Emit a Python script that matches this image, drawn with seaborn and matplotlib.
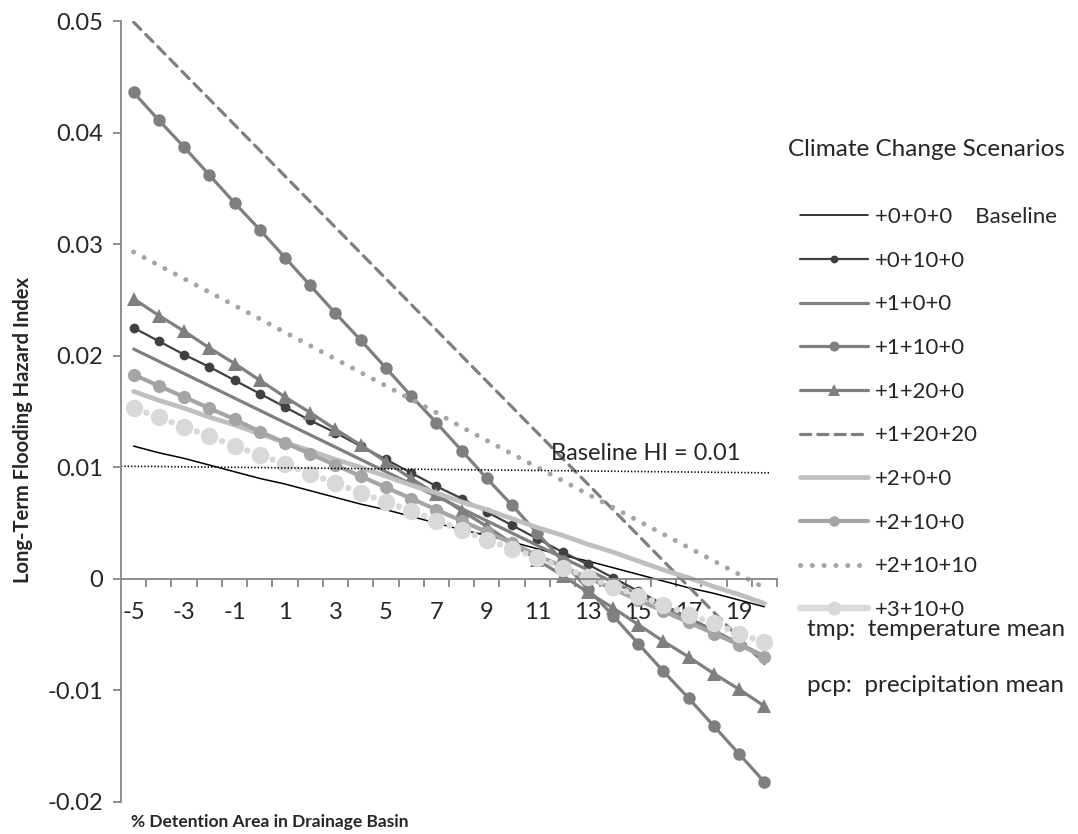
import numpy as np
import pandas as pd
import seaborn as sns
import matplotlib.pyplot as plt
from matplotlib.lines import Line2D

# % detention area (categories on the x axis)
detention = list(range(-5, 21))
tick_values = list(range(-5, 20, 2))
tick_labels = [str(v) for v in tick_values]

# long-term flooding hazard index
hi_000 = [0.0119, 0.0113, 0.0108, 0.0102, 0.0096, 0.0090, 0.0085, 0.0079, 0.0073, 0.0067,
          0.0062, 0.0056, 0.0050, 0.0044, 0.0039, 0.0033, 0.0027, 0.0021, 0.0016, 0.0010,
          0.0004, -0.0002, -0.0008, -0.0013, -0.0019, -0.0025]
hi_0100 = [0.0225, 0.0213, 0.0201, 0.0190, 0.0178, 0.0166, 0.0154, 0.0142, 0.0131, 0.0119,
           0.0107, 0.0095, 0.0083, 0.0072, 0.0060, 0.0048, 0.0036, 0.0024, 0.0013, 0.0001,
           -0.0011, -0.0023, -0.0035, -0.0046, -0.0058, -0.0070]
hi_100 = [0.0206, 0.0195, 0.0184, 0.0173, 0.0162, 0.0151, 0.0140, 0.0129, 0.0118, 0.0107,
          0.0096, 0.0085, 0.0074, 0.0063, 0.0052, 0.0041, 0.0030, 0.0019, 0.0008, -0.0003,
          -0.0014, -0.0025, -0.0036, -0.0047, -0.0058, -0.0069]
hi_1100 = [0.0436, 0.0411, 0.0387, 0.0362, 0.0337, 0.0313, 0.0288, 0.0263, 0.0238, 0.0214,
           0.0189, 0.0164, 0.0140, 0.0115, 0.0090, 0.0066, 0.0041, 0.0016, -0.0009, -0.0033,
           -0.0058, -0.0083, -0.0107, -0.0132, -0.0157, -0.0182]
hi_1200 = [0.0251, 0.0236, 0.0222, 0.0207, 0.0193, 0.0178, 0.0163, 0.0149, 0.0134, 0.0120,
           0.0105, 0.0090, 0.0076, 0.0061, 0.0047, 0.0032, 0.0017, 0.0003, -0.0012, -0.0026,
           -0.0041, -0.0056, -0.0070, -0.0085, -0.0099, -0.0114]
hi_12020 = [0.0499, 0.0476, 0.0453, 0.0430, 0.0407, 0.0384, 0.0361, 0.0338, 0.0315, 0.0292,
            0.0269, 0.0246, 0.0223, 0.0200, 0.0177, 0.0154, 0.0131, 0.0108, 0.0085, 0.0062,
            0.0039, 0.0016, -0.0007, -0.0030, -0.0053, -0.0076]
hi_200 = [0.0168, 0.0160, 0.0153, 0.0145, 0.0138, 0.0130, 0.0122, 0.0115, 0.0107, 0.0100,
          0.0092, 0.0084, 0.0077, 0.0069, 0.0062, 0.0054, 0.0046, 0.0039, 0.0031, 0.0024,
          0.0016, 0.0008, 0.0001, -0.0007, -0.0014, -0.0022]
hi_2100 = [0.0183, 0.0173, 0.0163, 0.0153, 0.0143, 0.0132, 0.0122, 0.0112, 0.0102, 0.0092,
           0.0082, 0.0072, 0.0062, 0.0052, 0.0042, 0.0032, 0.0021, 0.0011, 0.0001, -0.0009,
           -0.0019, -0.0029, -0.0039, -0.0049, -0.0059, -0.0070]
hi_21010 = [0.0293, 0.0281, 0.0269, 0.0257, 0.0245, 0.0233, 0.0221, 0.0209, 0.0197, 0.0185,
            0.0173, 0.0161, 0.0149, 0.0136, 0.0124, 0.0112, 0.0100, 0.0088, 0.0076, 0.0064,
            0.0052, 0.0040, 0.0028, 0.0016, 0.0004, -0.0008]
hi_3100 = [0.0153, 0.0145, 0.0136, 0.0128, 0.0119, 0.0111, 0.0103, 0.0094, 0.0086, 0.0077,
           0.0069, 0.0061, 0.0052, 0.0044, 0.0035, 0.0027, 0.0019, 0.0010, 0.0002, -0.0007,
           -0.0015, -0.0023, -0.0032, -0.0040, -0.0049, -0.0057]

# the "Baseline HI = 0.01" reference line
baseline_x = [-5.5, 20.2]
baseline_hi = [0.0101, 0.0095]

scenarios = ["+0+0+0", "+0+10+0", "+1+0+0", "+1+10+0", "+1+20+0",
             "+1+20+20", "+2+0+0", "+2+10+0", "+2+10+10", "+3+10+0"]
series = [hi_000, hi_0100, hi_100, hi_1100, hi_1200,
          hi_12020, hi_200, hi_2100, hi_21010, hi_3100]

styles = {
    "+0+0+0":   dict(color="#000000", lw=1.1, ls="-", marker=None, ms=0),
    "+0+10+0":  dict(color="#404040", lw=1.6, ls="-", marker="o", ms=7),
    "+1+0+0":   dict(color="#7f7f7f", lw=2.3, ls="-", marker=None, ms=0),
    "+1+10+0":  dict(color="#7f7f7f", lw=2.3, ls="-", marker="o", ms=9),
    "+1+20+0":  dict(color="#7f7f7f", lw=2.3, ls="-", marker="^", ms=10),
    "+1+20+20": dict(color="#7f7f7f", lw=2.3, ls=(0, (3.2, 2.2)), marker=None, ms=0),
    "+2+0+0":   dict(color="#bfbfbf", lw=3.4, ls="-", marker=None, ms=0),
    "+2+10+0":  dict(color="#a5a5a5", lw=3.0, ls="-", marker="o", ms=9.5),
    "+2+10+10": dict(color="#a5a5a5", lw=3.6, ls=(0, (0.01, 2.35)), marker=None, ms=0),
    "+3+10+0":  dict(color="#d9d9d9", lw=4.6, ls=(0, (0.01, 2.1)), marker="o", ms=12.5),
}

sns.set_style("white")
plt.rcParams["font.family"] = ["Lato", "DejaVu Sans"]

fig = plt.figure(figsize=(10.78, 8.34), dpi=100)
ax = fig.add_axes([121 / 1078, 1 - 802 / 834, (777 - 121) / 1078, (802 - 21) / 834])

for name, vals in zip(scenarios, series):
    st = styles[name]
    df = pd.DataFrame({"x": detention, "y": vals})
    sns.lineplot(data=df, x="x", y="y", ax=ax, color=st["color"], linewidth=st["lw"],
                 linestyle=st["ls"], marker=st["marker"], markersize=st["ms"],
                 markeredgewidth=0, markeredgecolor=st["color"],
                 dash_capstyle="round", errorbar=None, legend=False)

sns.lineplot(x=baseline_x, y=baseline_hi, ax=ax, color="black", linewidth=1.2,
             linestyle=(0, (0.8, 1.2)), errorbar=None, legend=False)
fig.text(646 / 1078, 1 - 454 / 834, "Baseline HI = 0.01", fontsize=17,
         ha="center", va="center")

ax.set_xlim(-5.5, 20.5)
ax.set_ylim(-0.02, 0.05)
ax.set_xlabel("")
ax.set_ylabel("")

for s in ["top", "right"]:
    ax.spines[s].set_visible(False)
ax.spines["bottom"].set_position(("data", 0))
for s in ["left", "bottom"]:
    ax.spines[s].set_color("#868686")
    ax.spines[s].set_linewidth(1.3)

ax.set_xticks(tick_values)
ax.set_xticklabels(tick_labels)
ax.set_xticks(np.arange(-4.5, 21, 1), minor=True)
ax.tick_params(axis="x", which="major", length=0, pad=17, labelsize=17)
ax.tick_params(axis="x", which="minor", length=6, width=1.3, color="#868686",
               direction="out", bottom=True)
ax.set_yticks(np.arange(-0.02, 0.051, 0.01))
ax.set_yticklabels(["-0.02", "-0.01", "0", "0.01", "0.02", "0.03", "0.04", "0.05"])
ax.tick_params(axis="y", which="major", length=6, width=1.3, color="#868686",
               direction="out", left=True, pad=7, labelsize=17)

fig.text(23 / 1078, 1 - 430 / 834, "Long-Term Flooding Hazard Index", rotation=90,
         fontsize=14.5, fontweight="bold", ha="center", va="center")
fig.text(270 / 1078, 1 - 822 / 834, "% Detention Area in Drainage Basin",
         fontsize=12.5, fontweight="bold", ha="center", va="center")

# legend
handles = []
for name in scenarios:
    st = styles[name]
    ls = st["ls"]
    if name == "+3+10+0":
        ls = "-"
    handles.append(Line2D([], [], color=st["color"], lw=st["lw"], ls=ls,
                          marker=st["marker"], markersize=st["ms"] * 0.8,
                          markeredgewidth=0, dash_capstyle="round"))
labels = ["+0+0+0    Baseline"] + scenarios[1:]
fig.text(926 / 1078, 1 - 150 / 834, "Climate Change Scenarios", fontsize=17.5,
         ha="center", va="center")
fig.legend(handles, labels, loc="upper left", bbox_to_anchor=(800 / 1078, 1 - 207 / 834),
           frameon=False, fontsize=16, handlelength=3.06, handletextpad=0.31,
           labelspacing=1.065, borderpad=0, borderaxespad=0)
fig.text(807 / 1078, 1 - 630 / 834, "tmp:  temperature mean", fontsize=17.5,
         ha="left", va="center")
fig.text(807 / 1078, 1 - 685 / 834, "pcp:  precipitation mean", fontsize=17.5,
         ha="left", va="center")

fig.savefig("out.png", dpi=100)
